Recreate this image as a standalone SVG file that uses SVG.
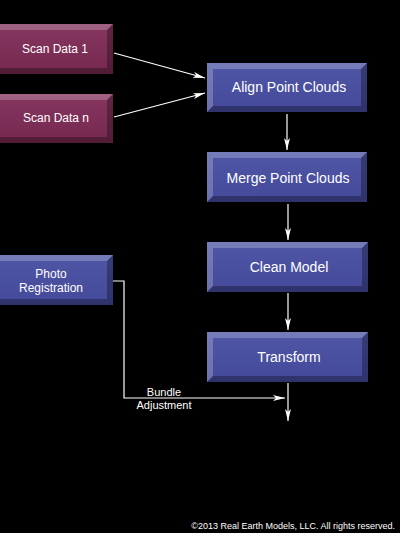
<svg xmlns="http://www.w3.org/2000/svg" width="400" height="533" viewBox="0 0 400 533">
<style>
text{font-family:"Liberation Sans",Arial,sans-serif;fill:#fff;text-anchor:middle}
.lbl{font-size:14px}
.sm{font-size:12px}
.hi{fill:#fff;opacity:0.22}
.sh{fill:#000;opacity:0.3}
.cn{stroke:#fff;stroke-width:1.2;fill:none}
</style>
<defs>
<marker id="ah" viewBox="0 0 12 6" refX="12" refY="3" markerWidth="12" markerHeight="6" markerUnits="userSpaceOnUse" orient="auto">
<path d="M0,0 L12,3 L0,6 L3,3 Z" fill="#fff"/>
</marker>
<linearGradient id="gp" x1="0" y1="0" x2="0" y2="1"><stop offset="0" stop-color="#86365f"/><stop offset="1" stop-color="#76284f"/></linearGradient>
<linearGradient id="gb" x1="0" y1="0" x2="0" y2="1"><stop offset="0" stop-color="#5056a6"/><stop offset="1" stop-color="#44499a"/></linearGradient>
</defs>
<rect width="400" height="533" fill="#000"/>
<g id="scan1">
<rect x="0" y="24" width="113" height="50" fill="url(#gp)"/>
<path class="hi" d="M0,24 H113 L107,30 H0 Z"/>
<path class="sh" d="M113,24 V74 H0 V68 H107 V30 Z"/>
<text class="sm" x="55" y="53">Scan Data 1</text>
</g>
<g id="scann">
<rect x="0" y="94" width="113" height="49" fill="url(#gp)"/>
<path class="hi" d="M0,94 H113 L107,100 H0 Z"/>
<path class="sh" d="M113,94 V143 H0 V137 H107 V100 Z"/>
<text class="sm" x="56" y="122">Scan Data  n</text>
</g>
<g id="photo">
<rect x="0" y="255" width="113" height="50" fill="url(#gb)"/>
<path class="hi" d="M0,255 H113 L107,261 H0 Z"/>
<path class="sh" d="M113,255 V305 H0 V299 H107 V261 Z"/>
<text class="sm" x="51" y="278">Photo</text>
<text class="sm" x="51" y="292">Registration</text>
</g>
<g id="align">
<rect x="207" y="63" width="160" height="49" fill="url(#gb)"/>
<path class="hi" d="M207,63 H367 L361,69 H213 V106 L207,112 Z"/>
<path class="sh" d="M367,63 V112 H207 L213,106 H361 V69 Z"/>
<text class="lbl" x="289" y="92">Align Point Clouds</text>
</g>
<g id="merge">
<rect x="207" y="152" width="160" height="50" fill="url(#gb)"/>
<path class="hi" d="M207,152 H367 L361,158 H213 V196 L207,202 Z"/>
<path class="sh" d="M367,152 V202 H207 L213,196 H361 V158 Z"/>
<text class="lbl" x="288" y="183">Merge Point Clouds</text>
</g>
<g id="clean">
<rect x="207" y="242" width="161" height="50" fill="url(#gb)"/>
<path class="hi" d="M207,242 H368 L362,248 H213 V286 L207,292 Z"/>
<path class="sh" d="M368,242 V292 H207 L213,286 H362 V248 Z"/>
<text class="lbl" x="289" y="272">Clean Model</text>
</g>
<g id="transform">
<rect x="207" y="332" width="161" height="50" fill="url(#gb)"/>
<path class="hi" d="M207,332 H368 L362,338 H213 V376 L207,382 Z"/>
<path class="sh" d="M368,332 V382 H207 L213,376 H362 V338 Z"/>
<text class="lbl" x="289" y="362">Transform</text>
</g>
<g id="connectors">
<line class="cn" x1="114" y1="53" x2="205" y2="78" marker-end="url(#ah)"/>
<line class="cn" x1="114" y1="117" x2="205" y2="93" marker-end="url(#ah)"/>
<line class="cn" x1="287" y1="114" x2="287" y2="150" marker-end="url(#ah)"/>
<line class="cn" x1="288" y1="204" x2="288" y2="240" marker-end="url(#ah)"/>
<line class="cn" x1="288" y1="293" x2="288" y2="330" marker-end="url(#ah)"/>
<line class="cn" x1="288" y1="383" x2="288" y2="421" marker-end="url(#ah)"/>
<polyline class="cn" points="113,281 124,281 124,398 285,398" marker-end="url(#ah)"/>
<text x="164" y="396" style="font-size:11px">Bundle</text>
<text x="164" y="409" style="font-size:11px">Adjustment</text>
</g>
<text x="395" y="529" style="font-size:9px;text-anchor:end">©2013 Real Earth Models, LLC. All rights reserved.</text>
</svg>
